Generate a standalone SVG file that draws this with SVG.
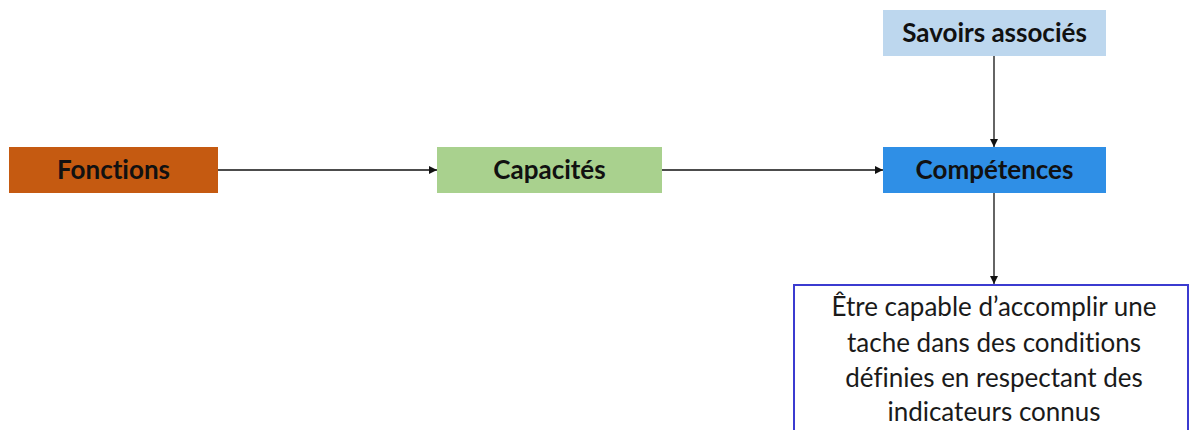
<svg xmlns="http://www.w3.org/2000/svg" width="1189" height="430" viewBox="0 0 1189 430">
<style>
.lbl{font-family:Lato,"Open Sans","Liberation Sans",sans-serif;font-weight:bold;font-size:26px;fill:#111;text-anchor:middle;font-variant-ligatures:none}
.body{font-family:Lato,"Open Sans","Liberation Sans",sans-serif;font-size:26px;fill:#1a1a1a;text-anchor:middle;font-variant-ligatures:none}
.conn{stroke:#111;stroke-width:1.3;fill:none;marker-end:url(#ah)}
</style>
<defs>
<marker id="ah" viewBox="0 0 10 10" refX="10" refY="5" markerWidth="8" markerHeight="8" markerUnits="userSpaceOnUse" orient="auto">
<path d="M0,0 L10,5 L0,10 z" fill="#111"/>
</marker>
</defs>
<rect width="1189" height="430" fill="#fff"/>
<g id="connectors">
<line class="conn" x1="218" y1="170" x2="437" y2="170"/>
<line class="conn" x1="662" y1="170" x2="883" y2="170"/>
<line class="conn" x1="994" y1="56" x2="994" y2="147"/>
<line class="conn" x1="994" y1="193" x2="994" y2="284"/>
</g>
<g id="fonctions">
<rect x="9" y="147" width="209" height="46" fill="#C55A11"/>
<text class="lbl" x="113.5" y="179">Fonctions</text>
</g>
<g id="capacites">
<rect x="437" y="147" width="225" height="46" fill="#A9D18E"/>
<text class="lbl" x="549.5" y="179">Capacités</text>
</g>
<g id="competences">
<rect x="883" y="147" width="223" height="46" fill="#2F8FE6"/>
<text class="lbl" x="994.5" y="179">Compétences</text>
</g>
<g id="savoirs">
<rect x="883" y="10" width="223" height="46" fill="#BDD7EE"/>
<text class="lbl" x="994.5" y="42">Savoirs associés</text>
</g>
<g id="definition">
<rect x="794" y="285" width="394" height="160" fill="#fff" stroke="#3B3BD0" stroke-width="2"/>
<text class="body" x="994" y="316">Être capable d’accomplir une</text>
<text class="body" x="994" y="352">tache dans des conditions</text>
<text class="body" x="994" y="387">définies en respectant des</text>
<text class="body" x="994" y="421">indicateurs connus</text>
</g>
</svg>
